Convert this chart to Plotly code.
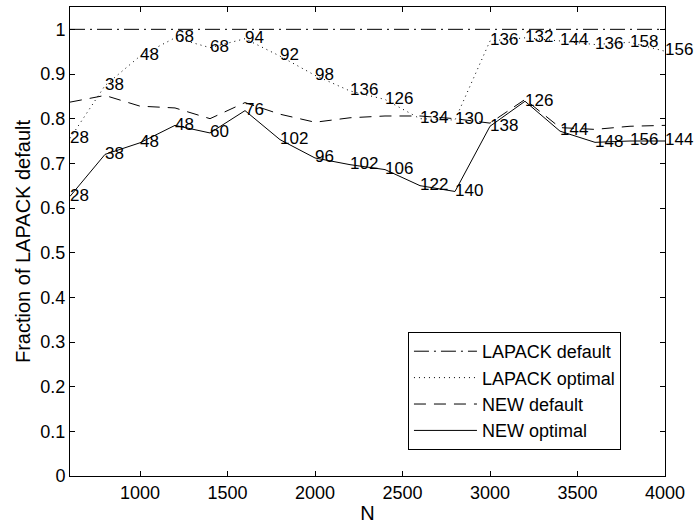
import plotly.graph_objects as go

N = [600, 800, 1000, 1200, 1400, 1600, 1800, 2000, 2200, 2400,
     2600, 2800, 3000, 3200, 3400, 3600, 3800, 4000]

lapack_default = [1.0] * 18
lapack_optimal = [0.756, 0.874, 0.940, 0.981, 0.959, 0.979, 0.940, 0.897, 0.862, 0.843,
                  0.800, 0.797, 0.974, 0.981, 0.974, 0.966, 0.971, 0.951]
new_default = [0.837, 0.852, 0.828, 0.824, 0.800, 0.836, 0.810, 0.792, 0.802, 0.806,
               0.806, 0.800, 0.790, 0.843, 0.780, 0.776, 0.783, 0.785]
new_optimal = [0.626, 0.720, 0.746, 0.785, 0.768, 0.818, 0.753, 0.712, 0.697, 0.686,
               0.650, 0.637, 0.783, 0.839, 0.772, 0.747, 0.750, 0.750]

lapack_opt_labels = [28, 38, 48, 68, 68, 94, 92, 98, 136, 126, 134, 130, 136, 132, 144, 136, 158, 156]
new_opt_labels = [28, 38, 48, 48, 60, 76, 102, 96, 102, 106, 122, 140, 138, 126, 144, 148, 156, 144]

x_ticks = [1000, 1500, 2000, 2500, 3000, 3500, 4000]
y_ticks = [0, 0.1, 0.2, 0.3, 0.4, 0.5, 0.6, 0.7, 0.8, 0.9, 1]
y_tick_text = ["0", "0.1", "0.2", "0.3", "0.4", "0.5", "0.6", "0.7", "0.8", "0.9", "1"]

FONT = "Liberation Sans, Arial, Helvetica, sans-serif"
FS_TICK = 18
FS_LABEL = 17
FS_LEGEND = 18
FS_TITLE = 20

fig = go.Figure()
fig.add_trace(go.Scatter(x=N, y=lapack_default, mode="lines", name="LAPACK default",
                         line=dict(color="black", width=1, dash="15px,5px,2px,5px")))
fig.add_trace(go.Scatter(x=N, y=lapack_optimal, mode="lines+text", name="LAPACK optimal",
                         text=[str(v) for v in lapack_opt_labels], textposition="middle right",
                         textfont=dict(family=FONT, size=FS_LABEL, color="black"),
                         cliponaxis=False,
                         line=dict(color="black", width=1, dash="1px,4px")))
fig.add_trace(go.Scatter(x=N, y=new_default, mode="lines", name="NEW default",
                         line=dict(color="black", width=1, dash="12px,8px")))
fig.add_trace(go.Scatter(x=N, y=new_optimal, mode="lines+text", name="NEW optimal",
                         text=[str(v) for v in new_opt_labels], textposition="middle right",
                         textfont=dict(family=FONT, size=FS_LABEL, color="black"),
                         cliponaxis=False,
                         line=dict(color="black", width=1)))

fig.update_layout(
    width=697, height=525,
    margin=dict(l=70, r=32, t=7, b=49),
    paper_bgcolor="white", plot_bgcolor="white",
    font=dict(family=FONT, size=FS_TICK, color="black"),
    showlegend=True,
    legend=dict(x=0.568, y=0.0554, xanchor="left", yanchor="bottom",
                bgcolor="white", bordercolor="black", borderwidth=1,
                font=dict(family=FONT, size=FS_LEGEND, color="black"),
                itemwidth=63),
    xaxis=dict(range=[600, 4000], tickvals=x_ticks, ticks="inside", ticklen=5,
               tickcolor="black", showline=True, linecolor="black", linewidth=1,
               mirror="ticks", showgrid=False, zeroline=False, automargin=False,
               tickfont=dict(size=FS_TICK),
               title=dict(text="N", font=dict(size=FS_TITLE), standoff=4)),
    yaxis=dict(range=[0, 1.05], tickvals=y_ticks, ticktext=y_tick_text, ticks="inside",
               ticklen=5, tickcolor="black", showline=True, linecolor="black", linewidth=1,
               mirror="ticks", showgrid=False, zeroline=False, automargin=False,
               tickfont=dict(size=FS_TICK),
               title=dict(text="Fraction of LAPACK default", font=dict(size=FS_TITLE), standoff=4)),
)

fig.write_html("out.html")
